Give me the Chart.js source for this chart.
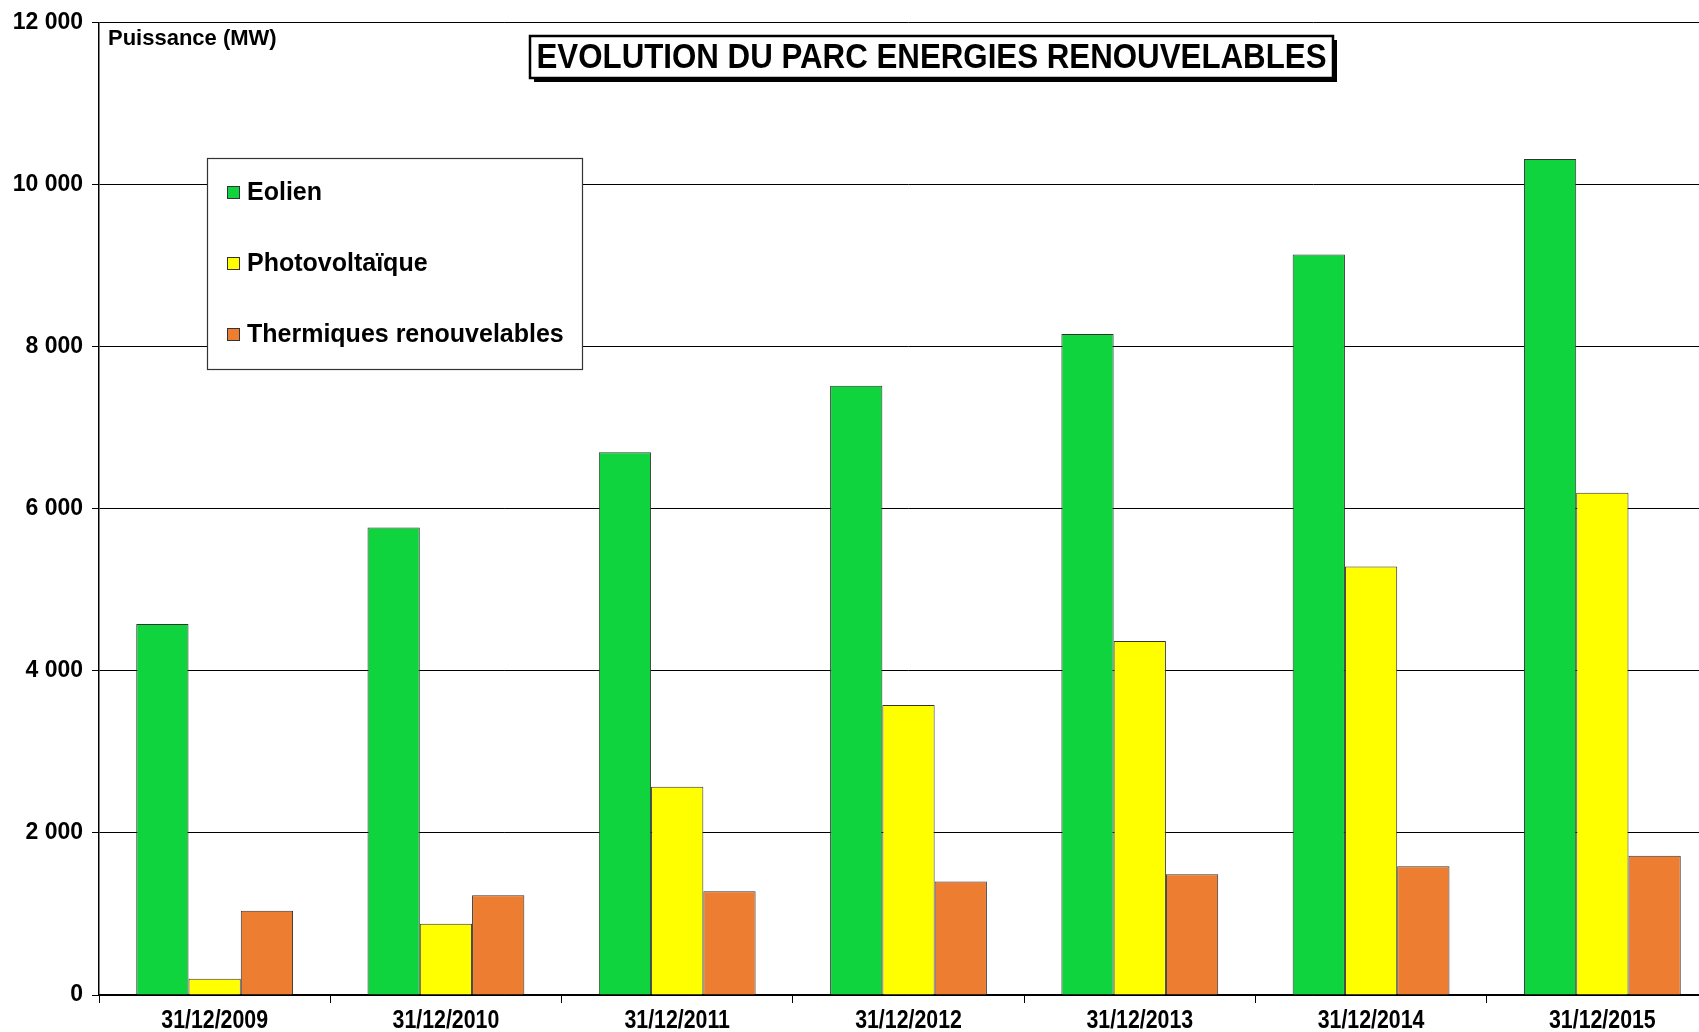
<!DOCTYPE html>
<html>
<head>
<meta charset="utf-8">
<script src="https://cdn.jsdelivr.net/npm/chart.js@4.4.0/dist/chart.umd.min.js"></script>
<style>
  html, body { margin: 0; padding: 0; background: #fff; overflow: hidden; }
  #wrap { position: relative; width: 1718px; height: 1032px; }
  canvas { display: block; }
</style>
</head>
<body>
<div id="wrap"><canvas id="c" width="1718" height="1032" style="width:1718px;height:1032px"></canvas></div>
<script>
const categories = ["31/12/2009", "31/12/2010", "31/12/2011", "31/12/2012", "31/12/2013", "31/12/2014", "31/12/2015"];
const eolien = [4580, 5770, 6700, 7520, 8160, 9140, 10320];
const photovoltaique = [200, 880, 2570, 3580, 4370, 5290, 6200];
const thermiques = [1040, 1230, 1280, 1400, 1490, 1590, 1720];
const seriesNames = ["Eolien", "Photovoltaïque", "Thermiques renouvelables"];
const yTicks = [0, 2000, 4000, 6000, 8000, 10000, 12000];
const chartTitle = "EVOLUTION DU PARC ENERGIES RENOUVELABLES";
const yAxisTitle = "Puissance (MW)";

const ARIAL = '"Liberation Sans", Arial, sans-serif';
const NARROW_SCALE = 0.82;

function fmt(v) { return String(v).replace(/\B(?=(\d{3})+(?!\d))/g, ' '); }

function narrowText(ctx, text, x, y, scaleX) {
  ctx.save();
  ctx.translate(x, y);
  ctx.scale(scaleX, 1);
  ctx.fillText(text, 0, 0);
  ctx.restore();
}

const decorPlugin = {
  id: 'decor',
  afterDraw(chart) {
    const ctx = chart.ctx;
    const area = chart.chartArea;
    ctx.save();

    // X category labels (narrow bold), positioned by the category scale
    const xs = chart.scales.x;
    ctx.font = 'bold 26px ' + ARIAL;
    ctx.fillStyle = '#000';
    ctx.textAlign = 'center';
    ctx.textBaseline = 'middle';
    chart.data.labels.forEach((lab, i) => {
      narrowText(ctx, lab, xs.getPixelForValue(i), area.bottom + 26, NARROW_SCALE);
    });

    // Y axis title
    ctx.font = 'bold 22px ' + ARIAL;
    ctx.textBaseline = 'middle';
    ctx.textAlign = 'left';
    ctx.fillText(yAxisTitle, area.left + 9, 39);

    // Title box with shadow
    const bx = 530, by = 36, bw = 803, bh = 42;
    ctx.fillStyle = '#000';
    ctx.fillRect(bx + 4, by + 4, bw, bh);
    ctx.fillStyle = '#fff';
    ctx.fillRect(bx, by, bw, bh);
    ctx.strokeStyle = '#000';
    ctx.lineWidth = 2.5;
    ctx.strokeRect(bx, by, bw, bh);
    ctx.font = 'bold 35px ' + ARIAL;
    const tw = ctx.measureText(chartTitle).width;
    const target = 790;
    ctx.fillStyle = '#000';
    ctx.textAlign = 'center';
    ctx.textBaseline = 'middle';
    narrowText(ctx, chartTitle, bx + bw / 2, by + bh / 2 + 1, target / tw);

    // Legend box
    const lx = 207, ly = 158, lw = 375, lh = 211;
    ctx.fillStyle = '#fff';
    ctx.fillRect(lx, ly, lw, lh);
    ctx.strokeStyle = '#333';
    ctx.lineWidth = 1.2;
    ctx.strokeRect(lx + 0.5, ly + 0.5, lw, lh);
    const rows = [192, 263, 334];
    ctx.font = 'bold 25px ' + ARIAL;
    ctx.textAlign = 'left';
    ctx.textBaseline = 'middle';
    chart.data.datasets.forEach((ds, i) => {
      const y = rows[i];
      ctx.fillStyle = ds.backgroundColor;
      ctx.fillRect(227, y - 6, 13, 13);
      ctx.strokeStyle = '#333';
      ctx.lineWidth = 1;
      ctx.strokeRect(227.5, y - 5.5, 12, 12);
      ctx.fillStyle = '#000';
      ctx.fillText(ds.label, 247, y + 1);
    });
    ctx.restore();
  }
};

new Chart(document.getElementById('c'), {
  type: 'bar',
  data: {
    labels: categories,
    datasets: [
      { label: seriesNames[0], data: eolien, backgroundColor: '#10D43E', borderColor: '#333', borderWidth: 1 },
      { label: seriesNames[1], data: photovoltaique, backgroundColor: '#FFFF00', borderColor: '#333', borderWidth: 1 },
      { label: seriesNames[2], data: thermiques, backgroundColor: '#ED7D31', borderColor: '#333', borderWidth: 1 }
    ]
  },
  options: {
    responsive: false,
    animation: false,
    devicePixelRatio: 1,
    layout: { padding: { top: 19.2, right: 0, left: 0, bottom: 0 } },
    plugins: { legend: { display: false }, title: { display: false }, tooltip: { enabled: false } },
    datasets: { bar: { categoryPercentage: 0.678, barPercentage: 1.0 } },
    scales: {
      x: {
        offset: true,
        grid: { offset: true, drawOnChartArea: false, drawTicks: true, tickLength: 8, color: '#000', lineWidth: 1 },
        border: { display: true, color: '#000', width: 1.5 },
        ticks: { display: false },
        afterFit(scale) { scale.height = 37; }
      },
      y: {
        min: 0, max: 12000,
        afterBuildTicks(scale) { scale.ticks = yTicks.map(v => ({ value: v })); },
        grid: { color: '#000', lineWidth: 1, drawTicks: true, tickLength: 7 },
        border: { display: true, color: '#000', width: 1.5 },
        ticks: { color: '#000', font: { family: ARIAL, weight: 'bold', size: 23 }, padding: 9, callback: v => fmt(v) },
        afterFit(scale) { scale.width = 99; }
      }
    }
  },
  plugins: [decorPlugin]
});
</script>
</body>
</html>
